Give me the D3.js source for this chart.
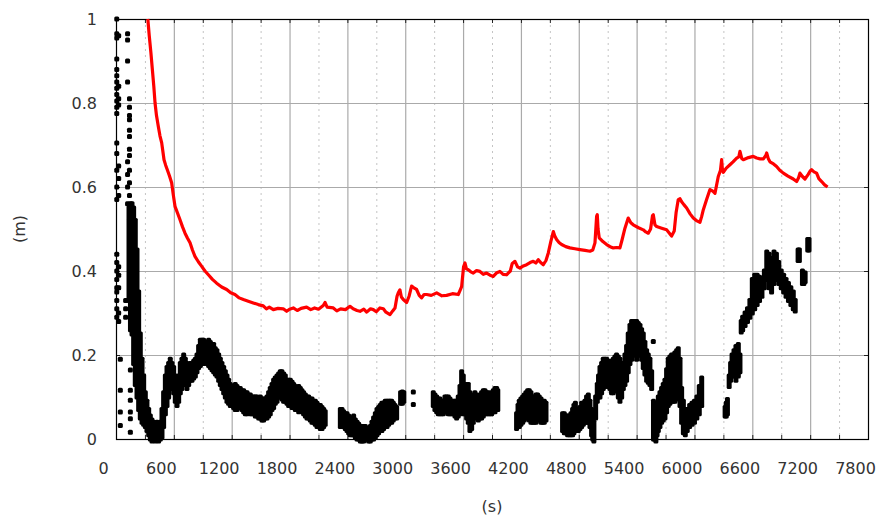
<!DOCTYPE html>
<html><head><meta charset="utf-8">
<script src="https://cdn.jsdelivr.net/npm/d3@7"></script>
<style>body{margin:0;background:#fff}svg{display:block}text{font-family:"DejaVu Sans",sans-serif;fill:#333}</style>
</head><body><svg id="c" width="880" height="516"></svg>
<script>
const xTicks = [0,600,1200,1800,2400,3000,3600,4200,4800,5400,6000,6600,7200,7800];
const xMinor = [300,900,1500,2100,2700,3300,3900,4500,5100,5700,6300,6900,7500];
const yTicks = [0,0.2,0.4,0.6,0.8,1];
const yTickLabels = ["0","0.2","0.4","0.6","0.8","1"];
const xTitle = "(s)";
const yTitle = "(m)";

// red series (s, m)
const redT = [330,345,362,377,392,405,420,439,456,474,486,498,515,532,555,577,595,612,638,664,690,716,742,768,793,819,854,889,923,958,1000,1044,1096,1148,1190,1234,1278,1321,1372,1424,1476,1528,1560,1590,1632,1680,1735,1770,1800,1839,1880,1920,1977,2020,2060,2100,2150,2168,2190,2254,2290,2330,2380,2427,2460,2500,2531,2570,2600,2640,2669,2700,2738,2773,2800,2842,2870,2894,2915,2928,2945,2960,2980,3015,3040,3066,3090,3118,3145,3170,3195,3222,3270,3326,3380,3429,3490,3550,3585,3605,3620,3635,3654,3680,3706,3740,3775,3810,3844,3880,3913,3950,3982,4015,4051,4090,4110,4138,4165,4190,4225,4259,4295,4328,4355,4380,4405,4432,4460,4484,4510,4536,4550,4570,4595,4622,4665,4708,4760,4812,4865,4916,4945,4968,4985,4992,5000,5012,5050,5089,5125,5158,5195,5227,5250,5279,5313,5340,5365,5420,5469,5495,5521,5545,5565,5573,5590,5608,5660,5711,5740,5763,5790,5810,5832,5850,5867,5890,5919,5955,5988,6020,6057,6075,6092,6126,6161,6190,6213,6247,6270,6282,6290,6299,6330,6368,6400,6438,6460,6472,6490,6507,6560,6610,6645,6680,6715,6740,6749,6765,6783,6820,6852,6885,6922,6970,7025,7060,7080,7094,7120,7146,7180,7200,7215,7240,7267,7290,7319,7350,7381];
const redV = [1.0,0.96,0.92,0.88,0.84,0.8,0.77,0.744,0.722,0.705,0.685,0.665,0.652,0.641,0.626,0.61,0.58,0.554,0.538,0.522,0.505,0.49,0.478,0.467,0.45,0.435,0.422,0.411,0.4,0.391,0.38,0.371,0.362,0.356,0.348,0.344,0.336,0.332,0.328,0.324,0.32,0.317,0.31,0.314,0.308,0.311,0.31,0.304,0.309,0.312,0.306,0.311,0.314,0.308,0.312,0.309,0.318,0.325,0.314,0.312,0.305,0.31,0.308,0.316,0.31,0.306,0.304,0.309,0.302,0.31,0.308,0.303,0.312,0.31,0.302,0.296,0.305,0.312,0.34,0.348,0.355,0.338,0.332,0.325,0.34,0.364,0.36,0.356,0.342,0.336,0.344,0.344,0.342,0.348,0.341,0.342,0.346,0.344,0.363,0.41,0.419,0.405,0.403,0.398,0.395,0.401,0.399,0.392,0.395,0.39,0.387,0.396,0.399,0.392,0.391,0.4,0.418,0.423,0.41,0.407,0.412,0.415,0.42,0.423,0.419,0.427,0.42,0.415,0.425,0.443,0.47,0.494,0.484,0.475,0.468,0.463,0.458,0.455,0.453,0.451,0.449,0.447,0.45,0.467,0.53,0.534,0.5,0.479,0.47,0.463,0.458,0.455,0.456,0.455,0.475,0.502,0.526,0.515,0.51,0.503,0.498,0.493,0.49,0.5,0.532,0.534,0.51,0.506,0.502,0.498,0.49,0.483,0.495,0.54,0.57,0.572,0.565,0.558,0.55,0.536,0.526,0.52,0.516,0.53,0.546,0.57,0.594,0.59,0.585,0.625,0.64,0.665,0.64,0.635,0.645,0.653,0.66,0.669,0.672,0.685,0.668,0.665,0.67,0.673,0.669,0.667,0.667,0.675,0.681,0.668,0.66,0.655,0.649,0.64,0.633,0.626,0.619,0.613,0.622,0.633,0.625,0.619,0.63,0.638,0.641,0.636,0.633,0.62,0.613,0.605,0.6];

// black series: isolated samples (s, m)
const dotT = [8,8,8,8,8,8,8,8,8,8,8,8,8,8,8,8,8,8,8,8,8,8,8,8,8,8, 28,28,28,28,28,28,28,28,28,28,28,28, 45,45,45,45, 100,100,100, 120,120,120,120,120,120,120,120, 140,140,140,140,140,140,140,140,140,140,140,140,140, 149,149,149,149,149,149, 3084,3084, 5452,5573];
const dotV = [1.0,0.965,0.955,0.905,0.88,0.865,0.85,0.835,0.82,0.805,0.79,0.775,0.705,0.68,0.64,0.6,0.57,0.44,0.42,0.4,0.38,0.36,0.35,0.33,0.31,0.29, 0.96,0.84,0.81,0.795,0.65,0.62,0.58,0.41,0.39,0.36,0.3,0.28, 0.19,0.116,0.064,0.032, 0.33,0.31,0.29, 0.965,0.95,0.9,0.85,0.66,0.63,0.6,0.56, 0.81,0.79,0.77,0.76,0.735,0.72,0.69,0.675,0.64,0.61,0.58,0.55,0.52, 0.164,0.116,0.092,0.064,0.048,0.016, 0.112,0.082, 0.2,0.232];

// black series: dense runs, spread of samples at each time (s, m low, m high)
const bandT = [135,150,166,183,200,218,235,252,270,287,304,321,339,356,373,390,408,425,442,460,477,494,512,529,546,563,581,598,615,633,650,667,684,702,719,736,754,771,788,806,823,840,857,875,892,909,926,944,961,978,996,1013,1030,1047,1065,1082,1099,1117,1134,1151,1168,1186,1203,1220,1237,1255,1272,1289,1306,1324,1341,1359,1376,1393,1410,1428,1445,1462,1480,1497,1514,1531,1549,1566,1583,1600,1618,1635,1652,1670,1687,1704,1721,1739,1756,1774,1791,1808,1826,1843,1860,1877,1895,1912,1929,1946,1964,1981,1998,2015,2033,2050,2067,2085,2102,2119,2137,2154,2170,
2327,2344,2361,2378,2396,2413,2430,2448,2465,2482,2500,2517,2534,2551,2569,2586,2603,2620,2638,2655,2672,2690,2707,2724,2741,2758,2776,2793,2811,2828,2842,2859,2876,2893,2911,2952,2970,2985,
3291,3308,3326,3343,3360,3378,3395,3412,3429,3447,3464,3481,3499,3516,3533,3550,3568,3585,3602,3620,3637,3654,3671,3689,3706,3723,3740,3758,3775,3792,3810,3827,3844,3862,3879,3896,3913,3931,3948,3960,
4155,4170,4183,4200,4218,4235,4252,4270,4287,4304,4321,4338,4356,4373,4390,4408,4425,4442,4460,
4632,4650,4667,4684,4702,4719,4736,4750,4765,4780,4795,4812,4830,4847,4864,4881,4899,4916,4933,4945,4957,4975,4992,5005,5020,5037,5054,5071,5089,5106,5123,5140,5158,5175,5192,5210,5227,5245,5262,5279,5296,5313,5331,5348,5365,5383,5400,5417,5435,5452,5469,5486,5504,5521,5538,5556,5575,5585,5600,5612,5625,5642,5659,5676,5694,5711,5728,5745,5763,5780,5797,5815,5832,5850,5867,5885,5905,5925,5950,5975,6000,6025,6050,6075,
6318,6330,6342,6360,6375,6390,6410,6430,6455,6472,6485,6500,6525,6550,6575,6600,6625,6650,6675,6700,6725,6750,6775,6800,6825,6850,6875,6900,6925,6950,6975,7000,7025,7045,7075,7088,7120,7135,7148,7175,7188];
const bandLo = [.33,.26,.25,.18,.13,.10,.07,.05,.04,.035,.03,.02,.01,0,-.005,0,-.005,0,-.005,0,.005,.03,.06,.08,.10,.12,.12,.11,.09,.08,.09,.11,.12,.13,.13,.12,.13,.14,.14,.145,.15,.16,.17,.175,.18,.18,.185,.18,.175,.17,.165,.16,.155,.15,.14,.13,.12,.11,.1,.09,.085,.08,.08,.075,.07,.07,.075,.075,.07,.065,.06,.06,.065,.06,.06,.06,.055,.055,.05,.05,.045,.045,.05,.05,.055,.06,.07,.075,.085,.09,.1,.1,.095,.09,.09,.085,.08,.08,.075,.075,.07,.07,.065,.07,.065,.06,.055,.05,.05,.045,.04,.04,.035,.03,.03,.025,.025,.03,.035,
.03,.03,.03,.025,.02,.015,.01,.01,.01,.005,0,0,-.005,-.005,-.005,0,0,-.005,-.005,0,0,.005,.01,.015,.02,.02,.025,.03,.03,.035,.04,.04,.045,.05,.05,.085,.085,.09,
.08,.07,.065,.06,.06,.06,.06,.065,.065,.06,.06,.06,.06,.055,.05,.055,.06,.07,.06,.06,.05,.04,.02,.025,.04,.06,.05,.045,.05,.05,.055,.06,.06,.06,.06,.06,.065,.065,.07,.07,
.025,.03,.03,.035,.04,.045,.05,.05,.045,.04,.04,.04,.04,.045,.045,.04,.04,.04,.045,
.02,.015,.015,.01,.01,.01,.01,.015,.02,.02,.02,.025,.03,.035,.04,.04,.04,.03,.01,0,-.005,.05,.09,.1,.1,.11,.12,.125,.13,.125,.12,.11,.11,.115,.12,.1,.09,.1,.12,.13,.14,.16,.18,.19,.2,.2,.19,.2,.2,.19,.17,.155,.14,.135,.13,.12,0,0,-.005,.01,.02,.03,.04,.045,.05,.065,.08,.085,.09,.09,.09,.095,.1,.08,.04,.015,.01,.02,.03,.035,.04,.05,.06,.08,
.055,.055,.06,.125,.14,.15,.15,.14,.15,.16,.255,.26,.27,.28,.29,.3,.31,.32,.33,.34,.36,.38,.36,.35,.37,.38,.37,.36,.35,.34,.33,.32,.31,.305,.425,.425,.37,.37,.375,.45,.45];
const bandHi = [.55,.56,.56,.55,.52,.45,.35,.25,.19,.15,.11,.09,.07,.055,.045,.04,.03,.04,.035,.04,.07,.11,.15,.17,.18,.19,.18,.17,.15,.14,.15,.18,.19,.20,.19,.18,.17,.18,.175,.185,.19,.20,.22,.235,.235,.235,.23,.23,.235,.23,.225,.225,.215,.21,.2,.19,.18,.17,.16,.15,.14,.13,.125,.125,.13,.125,.12,.12,.115,.115,.11,.11,.105,.105,.1,.1,.1,.1,.095,.1,.095,.095,.095,.1,.11,.12,.13,.14,.145,.15,.155,.16,.16,.155,.15,.14,.14,.14,.135,.13,.125,.12,.125,.12,.115,.11,.105,.1,.1,.095,.095,.09,.09,.085,.08,.08,.075,.07,.065,
.07,.07,.065,.06,.06,.055,.05,.05,.055,.045,.04,.035,.03,.03,.03,.03,.025,.025,.03,.04,.05,.06,.07,.075,.08,.085,.085,.09,.09,.09,.09,.09,.085,.08,.075,.11,.112,.11,
.11,.105,.1,.095,.095,.09,.09,.1,.1,.1,.095,.09,.09,.09,.09,.1,.125,.16,.15,.13,.13,.13,.11,.1,.105,.11,.105,.1,.105,.11,.115,.115,.11,.11,.105,.11,.115,.12,.12,.115,
.06,.08,.09,.095,.1,.105,.11,.115,.115,.11,.1,.1,.105,.105,.1,.095,.09,.09,.085,
.06,.06,.055,.055,.055,.06,.07,.08,.085,.07,.06,.075,.085,.085,.09,.1,.105,.09,.07,.05,.04,.1,.13,.15,.17,.18,.19,.19,.19,.185,.18,.185,.19,.195,.2,.195,.19,.18,.17,.2,.22,.25,.27,.28,.28,.28,.28,.275,.27,.26,.25,.23,.21,.2,.19,.16,.09,.085,.07,.08,.1,.11,.12,.13,.14,.165,.19,.195,.2,.2,.205,.21,.215,.19,.12,.09,.07,.07,.08,.085,.09,.1,.125,.145,
.075,.085,.094,.15,.18,.2,.21,.22,.225,.2,.28,.29,.3,.31,.33,.38,.39,.39,.385,.38,.4,.445,.44,.43,.445,.44,.42,.4,.39,.38,.37,.36,.35,.33,.45,.45,.4,.395,.395,.475,.475];

const W = 880, H = 516;
const M = {left:116, right:868, top:19, bottom:439};
const svg = d3.select("#c");
svg.append("rect").attr("width",W).attr("height",H).attr("fill","#fff");

const x = d3.scaleLinear().domain([0,7800]).range([M.left, M.right]);
const y = d3.scaleLinear().domain([0,1]).range([M.bottom, M.top]);

const g = svg.append("g");
g.selectAll(".vmin").data(xMinor).join("line")
  .attr("x1",d=>x(d)+0.5).attr("x2",d=>x(d)+0.5).attr("y1",M.top).attr("y2",M.bottom)
  .attr("stroke","#c4c4c4").attr("stroke-width",1).attr("stroke-dasharray","2,4");
g.selectAll(".vmaj").data(xTicks.slice(1,-1)).join("line")
  .attr("x1",d=>x(d)+0.5).attr("x2",d=>x(d)+0.5).attr("y1",M.top).attr("y2",M.bottom)
  .attr("stroke","#aaaaaa").attr("stroke-width",1.2);
g.selectAll(".hmaj").data(yTicks.slice(1,-1)).join("line")
  .attr("x1",M.left).attr("x2",M.right).attr("y1",d=>y(d)+0.5).attr("y2",d=>y(d)+0.5)
  .attr("stroke","#aaaaaa").attr("stroke-width",1.2);

const allX = xTicks.concat(xMinor);
g.selectAll(".tb").data(allX).join("line")
  .attr("x1",d=>x(d)+0.5).attr("x2",d=>x(d)+0.5).attr("y1",M.bottom).attr("y2",M.bottom-4)
  .attr("stroke","#222");
g.selectAll(".tt").data(allX).join("line")
  .attr("x1",d=>x(d)+0.5).attr("x2",d=>x(d)+0.5).attr("y1",M.top).attr("y2",M.top+4)
  .attr("stroke","#222");
g.selectAll(".tl").data(yTicks).join("line")
  .attr("x1",M.left).attr("x2",M.left+4).attr("y1",d=>y(d)+0.5).attr("y2",d=>y(d)+0.5).attr("stroke","#222");
g.selectAll(".tr").data(yTicks).join("line")
  .attr("x1",M.right-4).attr("x2",M.right).attr("y1",d=>y(d)+0.5).attr("y2",d=>y(d)+0.5).attr("stroke","#222");

svg.append("rect").attr("x",M.left+0.5).attr("y",M.top+0.5)
  .attr("width",M.right-M.left).attr("height",M.bottom-M.top)
  .attr("fill","none").attr("stroke","#000").attr("stroke-width",1.2);

const bands = bandT.map((t,i)=>({t, lo:bandLo[i], hi:bandHi[i]}));
svg.append("g").selectAll("rect").data(bands).join("rect")
  .attr("x",d=>x(d.t)-2.5).attr("width",5)
  .attr("y",d=>y(d.hi)-2.5).attr("height",d=>y(d.lo)-y(d.hi)+5)
  .attr("rx",1.5).attr("fill","#000");
const dots = dotT.map((t,i)=>({t, v:dotV[i]}));
svg.append("g").selectAll("rect").data(dots).join("rect")
  .attr("x",d=>x(d.t)-2.5).attr("y",d=>y(d.v)-2.5).attr("width",5).attr("height",5)
  .attr("rx",1.5).attr("fill","#000");

const red = redT.map((t,i)=>({t, v:redV[i]}));
svg.append("path").datum(red)
  .attr("d", d3.line().x(d=>x(d.t)).y(d=>y(d.v)))
  .attr("fill","none").attr("stroke","#ff0000").attr("stroke-width",3.2).attr("stroke-linejoin","round");

const fs = 16;
const xa = svg.append("g").attr("transform",`translate(0,${M.bottom})`)
  .call(d3.axisBottom(x).tickValues(xTicks).tickSize(0).tickPadding(0).tickFormat(d3.format("d")));
xa.select(".domain").remove();
xa.selectAll("text").attr("dx",-13).attr("y",35).attr("dy",0)
  .style("font-family","'DejaVu Sans',sans-serif").style("font-size",fs+"px").attr("fill","#333");

const ya = svg.append("g").attr("transform",`translate(${M.left},0)`)
  .call(d3.axisLeft(y).tickValues(yTicks).tickSize(0).tickPadding(19).tickFormat((d,i)=>yTickLabels[i]));
ya.select(".domain").remove();
ya.selectAll("text").attr("dy","0.32em")
  .style("font-family","'DejaVu Sans',sans-serif").style("font-size",fs+"px").attr("fill","#333");

svg.append("text").attr("x",(M.left+M.right)/2).attr("y",512).attr("text-anchor","middle")
  .style("font-size",fs+"px").text(xTitle);
svg.append("text").attr("transform","translate(25,229) rotate(-90)").attr("text-anchor","middle")
  .style("font-size",fs+"px").text(yTitle);
</script></body></html>
